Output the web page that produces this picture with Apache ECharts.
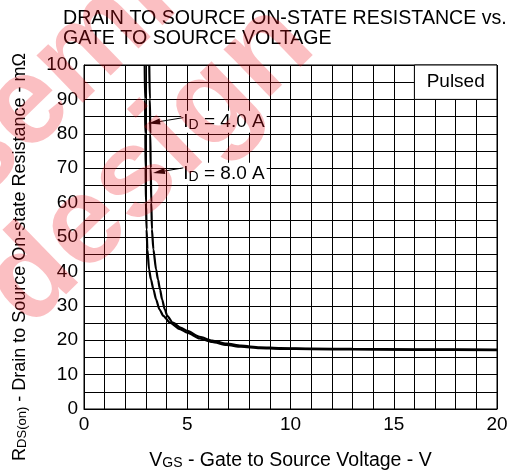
<!DOCTYPE html>
<html><head><meta charset="utf-8">
<script src="https://cdn.jsdelivr.net/npm/echarts@6/dist/echarts.min.js"></script>
<style>html,body{margin:0;padding:0;background:#fff}#c{width:523px;height:476px}</style>
</head><body><div id="c"></div>
<script>
// ---- data ----
const xTickLabels = [0, 5, 10, 15, 20];
const yTickLabels = [0, 10, 20, 30, 40, 50, 60, 70, 80, 90, 100];
// VGS (V), RDS(on) (mOhm)
const curve4A = [[2.94,100],[2.955,90],[2.97,80],[2.985,70],[3.0,60],[3.03,52.2],[3.07,46.4],[3.15,40.6],[3.24,37.7],[3.36,34.8],[3.49,31.9],[3.65,29.0],[3.84,27.1],[4.16,25.1],[4.65,23.2],[5.0,22.2],[5.6,20.5],[6.2,19.5],[6.9,18.6],[7.6,18.1],[8.5,17.7],[9.5,17.5],[11,17.4],[13,17.3],[16,17.2],[20,17.1]];
const curve8A = [[3.16,100],[3.19,90],[3.21,80],[3.23,70],[3.26,60],[3.29,52.2],[3.36,46.4],[3.49,40.6],[3.58,37.7],[3.68,34.8],[3.78,31.9],[3.91,29.0],[4.03,27.1],[4.30,25.1],[4.7,23.6],[5.0,22.7],[5.6,21.0],[6.2,19.9],[6.9,19.0],[7.6,18.4],[8.5,17.95],[9.5,17.7],[11,17.55],[13,17.45],[16,17.35],[20,17.25]];
const seriesNames = ['4.0 A', '8.0 A'];
const noteBox = [[16, 90], [20, 100]];
const noteText = 'Pulsed';
// annotation anchors in data coordinates: label centre, arrow start, arrow tip
const annLabelAt = [[6.78, 83.5], [6.78, 68.4]];
const annArrowFrom = [[4.81, 84.7], [4.81, 70.1]];
const annArrowTip = [[3.11, 83.0], [3.34, 68.6]];
const watermarkLines = ['semi', 'design'];

const FONT = '"Liberation Sans", Arial, sans-serif';
const chart = echarts.init(document.getElementById('c'), null, {renderer: 'canvas'});

chart.setOption({
  animation: false,
  backgroundColor: '#fff',
  title: {
    text: 'DRAIN TO SOURCE ON-STATE RESISTANCE vs.\nGATE TO SOURCE VOLTAGE',
    left: 63, top: 9, padding: 0,
    textStyle: {fontFamily: FONT, fontSize: 19.6, fontWeight: 'normal', color: '#000', lineHeight: 20}
  },
  grid: {left: 84, right: 26, top: 65, bottom: 66, show: true, borderColor: '#000', borderWidth: 1, backgroundColor: 'transparent'},
  xAxis: {
    type: 'value', min: 0, max: 20, interval: 1,
    axisLine: {show: true, lineStyle: {color: '#000', width: 1}},
    axisTick: {show: false},
    splitLine: {show: true, lineStyle: {color: '#000', width: 1}},
    axisLabel: {
      margin: 6, color: '#000', fontFamily: FONT, fontSize: 19,
      formatter: v => xTickLabels.includes(v) ? String(v) : ''
    },
    name: '{a|V}{s|GS}{a| - Gate to Source Voltage - V}',
    nameLocation: 'middle', nameGap: 42,
    nameTextStyle: {
      rich: {
        a: {fontFamily: FONT, fontSize: 19.5, color: '#000'},
        s: {fontFamily: FONT, fontSize: 14, color: '#000', verticalAlign: 'bottom', padding: [0,0,1,0]}
      }
    }
  },
  yAxis: {
    type: 'value', min: 0, max: 100, interval: 5,
    axisLine: {show: true, lineStyle: {color: '#000', width: 1}},
    axisTick: {show: false},
    splitLine: {show: true, lineStyle: {color: '#000', width: 1}},
    axisLabel: {
      margin: 6, color: '#000', fontFamily: FONT, fontSize: 19,
      formatter: v => yTickLabels.includes(v) ? String(v) : ''
    }
  },
  series: [
    {
      name: seriesNames[0], type: 'line', data: curve4A, showSymbol: false, smooth: 0.25, smoothMonotone: 'x',
      lineStyle: {color: '#000', width: 2.2}, z: 5,
      markArea: {
        silent: true,
        itemStyle: {color: '#fff', borderColor: '#000', borderWidth: 1},
        label: {show: true, position: 'inside', color: '#000', fontFamily: FONT, fontSize: 19, formatter: noteText},
        data: [[{coord: noteBox[0]}, {coord: noteBox[1]}]]
      }
    },
    {
      name: seriesNames[1], type: 'line', data: curve8A, showSymbol: false, smooth: 0.25, smoothMonotone: 'x',
      lineStyle: {color: '#000', width: 2.2}, z: 5
    }
  ]
});

// annotations positioned through the axes
const g = [];
for (let i = 0; i < 2; i++) {
  const c = chart.convertToPixel({gridIndex: 0}, annLabelAt[i]);
  const a = chart.convertToPixel({gridIndex: 0}, annArrowFrom[i]);
  const t = chart.convertToPixel({gridIndex: 0}, annArrowTip[i]);
  g.push({
    type: 'text', x: c[0], y: c[1], z: 10,
    style: {
      text: 'I{s|D}{a| = ' + seriesNames[i] + '}',
      fontFamily: FONT, fontSize: 19, fill: '#000',
      align: 'center', verticalAlign: 'middle',
      backgroundColor: '#fff', padding: [2, 2, 1, 2],
      rich: {
        a: {fontFamily: FONT, fontSize: 19, fill: '#000'},
        s: {fontFamily: FONT, fontSize: 14, fill: '#000', verticalAlign: 'bottom'}
      }
    }
  });
  const dx = t[0] - a[0], dy = t[1] - a[1];
  const L = Math.hypot(dx, dy), ux = dx / L, uy = dy / L;
  const hl = 12, hw = 3;
  const bx = t[0] - ux * hl, by = t[1] - uy * hl;
  g.push({type: 'line', z: 10, shape: {x1: a[0], y1: a[1], x2: bx, y2: by}, style: {stroke: '#000', lineWidth: 1}});
  g.push({type: 'polygon', z: 10, shape: {points: [[t[0], t[1]], [bx - uy * hw, by + ux * hw], [bx + uy * hw, by - ux * hw]]}, style: {fill: '#000'}});
}
// y axis name
g.push({
  type: 'text', x: 20, y: 257, rotation: Math.PI / 2, z: 10,
  style: {
    text: '{a|R}{s|DS(on)}{a| - Drain to Source On-state Resistance - mΩ}',
    align: 'center', verticalAlign: 'middle',
    rich: {
      a: {fontFamily: FONT, fontSize: 18, fill: '#000'},
      s: {fontFamily: FONT, fontSize: 13, fill: '#000', verticalAlign: 'bottom'}
    }
  }
});
// watermark (rotated group)
g.push({
  type: 'group', x: 108, y: 122, rotation: 0.77, silent: true, z: 50,
  children: [
    {type: 'text', x: -10, y: -66, z: 50, silent: true,
     style: {text: watermarkLines[0], font: 'bold 125px "Liberation Sans"', fill: 'rgba(240,20,30,0.27)', textAlign: 'center', textVerticalAlign: 'middle'}},
    {type: 'text', x: 0, y: 60, z: 50, silent: true,
     style: {text: watermarkLines[1], font: 'bold 125px "Liberation Sans"', fill: 'rgba(240,20,30,0.27)', textAlign: 'center', textVerticalAlign: 'middle'}}
  ]
});
chart.setOption({graphic: g});
</script>
</body></html>
